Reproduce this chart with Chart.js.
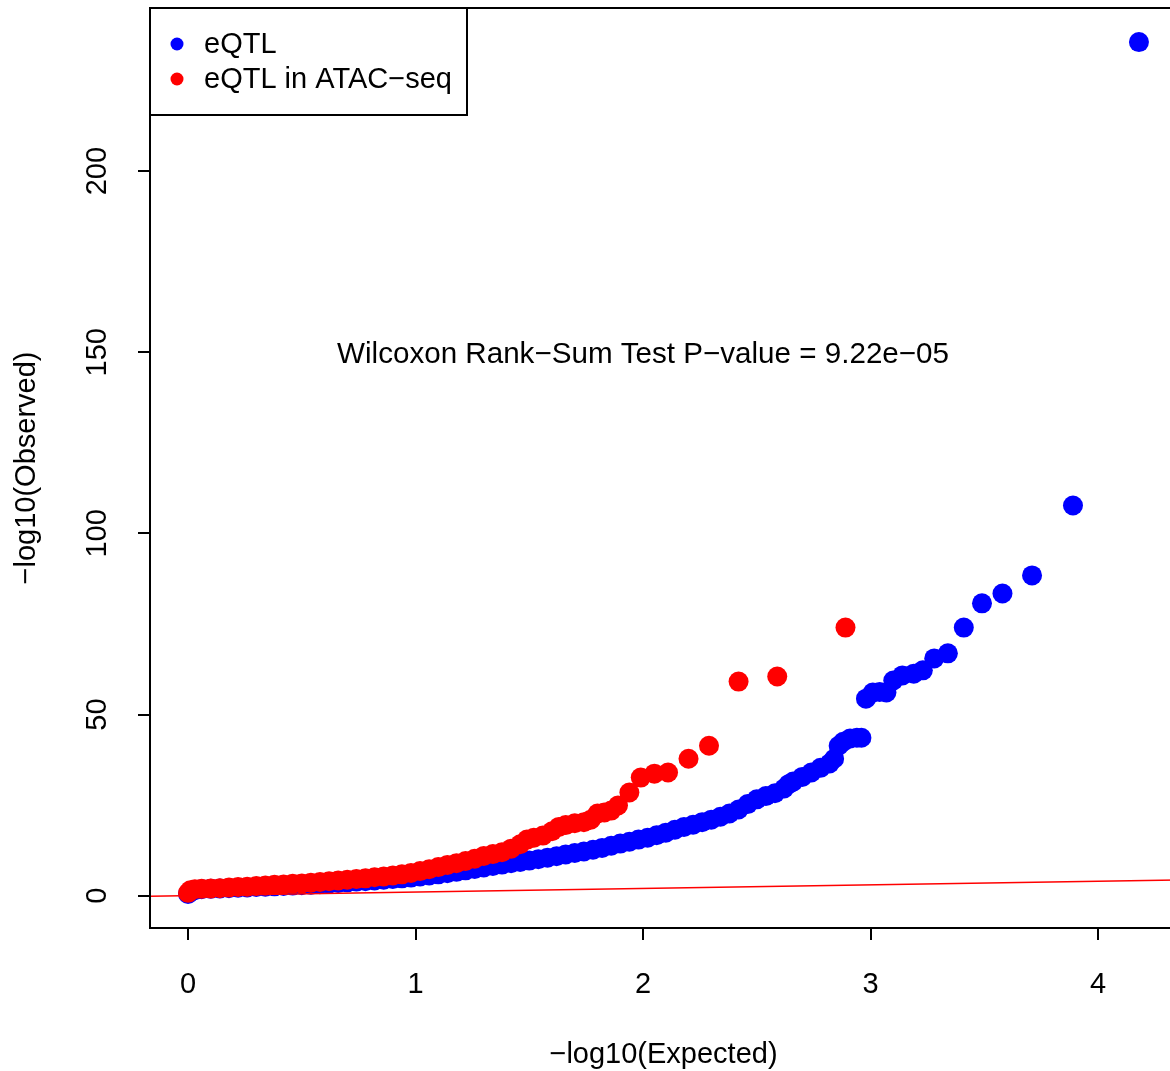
<!DOCTYPE html>
<html>
<head>
<meta charset="utf-8">
<script src="https://cdn.jsdelivr.net/npm/chart.js@4.4.1/dist/chart.umd.min.js"></script>
<style>
  html, body { margin: 0; padding: 0; background: #fff; overflow: hidden; }
  #qq { display: block; }
</style>
</head>
<body>
<canvas id="qq" width="1180" height="1071"></canvas>
<script>
// values: -log10(expected) vs -log10(observed)
const seriesNames = ["eQTL", "eQTL in ATAC\u2212seq"];
const seriesColors = ["#0000FF", "#FF0000"];

const eqtlExpected = [0.00, 0.01, 0.03, 0.06, 0.10, 0.14, 0.18, 0.22, 0.26, 0.30, 0.34, 0.38, 0.42, 0.46,
  0.50, 0.54, 0.58, 0.62, 0.66, 0.70, 0.74, 0.78, 0.82, 0.86, 0.90, 0.94, 0.98, 1.02, 1.06, 1.10, 1.14,
  1.18, 1.22, 1.26, 1.30, 1.34, 1.38, 1.42, 1.46, 1.50, 1.54, 1.58, 1.62, 1.66, 1.70, 1.74, 1.78, 1.82,
  1.86, 1.90, 1.94, 1.98, 2.02, 2.06, 2.10, 2.14, 2.18, 2.22, 2.26, 2.30, 2.34, 2.38, 2.42, 2.46, 2.50,
  2.54, 2.58, 2.62, 2.64, 2.66, 2.70, 2.74, 2.78, 2.82, 2.84, 2.86, 2.88, 2.91, 2.94, 2.96, 2.98, 3.01,
  3.04, 3.07, 3.10, 3.14, 3.19, 3.23, 3.28, 3.34, 3.41, 3.49, 3.58, 3.71, 3.89, 4.18];
const eqtlObserved = [0.5, 1.0, 1.5, 1.8, 1.9, 2.0, 2.1, 2.2, 2.3, 2.4, 2.5, 2.6, 2.7, 2.8,
  2.9, 3.0, 3.2, 3.3, 3.5, 3.7, 3.9, 4.0, 4.2, 4.4, 4.6, 4.8, 5.0, 5.3, 5.6, 5.9, 6.2,
  6.6, 7.0, 7.4, 7.8, 8.2, 8.6, 9.0, 9.3, 9.7, 10.1, 10.5, 10.9, 11.4, 11.8, 12.2, 12.7, 13.2,
  13.8, 14.4, 14.9, 15.5, 16.0, 16.7, 17.4, 18.2, 19.0, 19.6, 20.3, 21.0, 21.8, 22.7, 23.8, 25.3, 26.6,
  27.5, 28.3, 29.6, 30.8, 31.5, 32.8, 34.0, 35.3, 36.5, 37.8, 41.4, 42.5, 43.4, 43.6, 43.6, 54.4, 56.1,
  56.2, 56.1, 59.4, 60.8, 61.3, 62.2, 65.5, 66.9, 74.0, 80.7, 83.4, 88.4, 107.7, 235.6];

const atacExpected = [0.00, 0.01, 0.03, 0.06, 0.10, 0.14, 0.18, 0.22, 0.26, 0.30, 0.34, 0.38, 0.42, 0.46,
  0.50, 0.54, 0.58, 0.62, 0.66, 0.70, 0.74, 0.78, 0.82, 0.86, 0.90, 0.94, 0.98, 1.02, 1.06, 1.10, 1.14,
  1.18, 1.22, 1.26, 1.30, 1.34, 1.38, 1.42, 1.46, 1.49, 1.52, 1.56, 1.60, 1.63, 1.66, 1.70, 1.74, 1.77,
  1.80, 1.83, 1.86, 1.89, 1.94, 1.99, 2.05, 2.11, 2.20, 2.29, 2.42, 2.59, 2.89];
const atacObserved = [0.8, 1.5, 1.8, 1.9, 2.0, 2.1, 2.3, 2.4, 2.5, 2.7, 2.8, 3.0, 3.1, 3.3,
  3.4, 3.6, 3.8, 4.0, 4.2, 4.4, 4.6, 4.8, 5.1, 5.3, 5.6, 5.9, 6.3, 6.8, 7.3, 7.9, 8.5,
  9.0, 9.6, 10.2, 11.0, 11.5, 12.0, 13.0, 14.2, 15.5, 16.0, 16.6, 17.8, 19.0, 19.5, 20.0, 20.3, 21.0,
  22.7, 23.0, 23.5, 24.9, 28.5, 32.6, 33.7, 34.0, 37.8, 41.4, 59.1, 60.5, 74.0];

const xTicks = [0, 1, 2, 3, 4];
const yTicks = [0, 50, 100, 150, 200];
const xTitle = "\u2212log10(Expected)";
const yTitle = "\u2212log10(Observed)";
const noteText = "Wilcoxon Rank\u2212Sum Test P\u2212value = 9.22e\u221205";
const notePos = [2, 150];

const FONT = "'Liberation Sans', Arial, Helvetica, sans-serif";
const FS = 29;

function toPoints(xs, ys) {
  return xs.map((x, i) => ({ x: x, y: ys[i] }));
}

// R style axis range: data range + 4% on each side
function rRange(arrs) {
  const all = [].concat(...arrs);
  const lo = Math.min(...all), hi = Math.max(...all);
  const pad = (hi - lo) * 0.04;
  return [lo - pad, hi + pad];
}
const xLim = rRange([eqtlExpected, atacExpected]);
const yLim = rRange([eqtlObserved, atacObserved]);

const rDecor = {
  id: "rDecor",
  afterDatasetsDraw(chart) {
    const { ctx, chartArea: ca, scales: { x, y } } = chart;
    // abline(0, 1)
    ctx.save();
    ctx.beginPath();
    ctx.rect(ca.left, ca.top, ca.right - ca.left, ca.bottom - ca.top);
    ctx.clip();
    ctx.strokeStyle = "#FF0000";
    ctx.lineWidth = 1.5;
    ctx.beginPath();
    ctx.moveTo(x.getPixelForValue(x.min), y.getPixelForValue(x.min));
    ctx.lineTo(x.getPixelForValue(x.max), y.getPixelForValue(x.max));
    ctx.stroke();
    ctx.restore();
  },
  afterDraw(chart) {
    const { ctx, chartArea: ca, scales: { x, y } } = chart;
    ctx.save();
    // plot box (right side runs off the page, as in the original)
    ctx.strokeStyle = "#000";
    ctx.lineWidth = 2;
    ctx.strokeRect(ca.left, ca.top, ca.right - ca.left, ca.bottom - ca.top);

    ctx.fillStyle = "#000";
    ctx.font = FS + "px " + FONT;

    // y tick labels, parallel to the axis
    yTicks.forEach(v => {
      ctx.save();
      ctx.translate(98, y.getPixelForValue(v));
      ctx.rotate(-Math.PI / 2);
      ctx.textAlign = "center";
      ctx.textBaseline = "middle";
      ctx.fillText(String(v), 0, 0);
      ctx.restore();
    });

    // test annotation
    ctx.font = "29.6px " + FONT;
    ctx.textAlign = "center";
    ctx.textBaseline = "middle";
    ctx.fillText(noteText, x.getPixelForValue(notePos[0]), y.getPixelForValue(notePos[1]) + 3);

    // legend, top left
    ctx.font = FS + "px " + FONT;
    const L = ca.left, T = ca.top;
    ctx.fillStyle = "#fff";
    ctx.fillRect(L, T, 317, 107);
    ctx.strokeRect(L, T, 317, 107);
    ctx.textAlign = "left";
    seriesNames.forEach((name, i) => {
      const cy = T + 36 + i * 35;
      ctx.fillStyle = seriesColors[i];
      ctx.beginPath();
      ctx.arc(L + 27, cy, 6.5, 0, Math.PI * 2);
      ctx.fill();
      ctx.fillStyle = "#000";
      ctx.fillText(name, L + 54, cy + 1);
    });
    ctx.restore();
  }
};

const ctx = document.getElementById("qq").getContext("2d");
new Chart(ctx, {
  type: "scatter",
  data: {
    datasets: [
      {
        label: seriesNames[0],
        data: toPoints(eqtlExpected, eqtlObserved),
        backgroundColor: seriesColors[0],
        borderWidth: 0,
        pointRadius: 10,
        order: 2
      },
      {
        label: seriesNames[1],
        data: toPoints(atacExpected, atacObserved),
        backgroundColor: seriesColors[1],
        borderWidth: 0,
        pointRadius: 10,
        order: 1
      }
    ]
  },
  options: {
    responsive: false,
    animation: false,
    events: [],
    layout: { autoPadding: false, padding: { top: 8, right: 3, left: 0, bottom: 0 } },
    plugins: {
      legend: { display: false },
      tooltip: { enabled: false }
    },
    scales: {
      x: {
        type: "linear",
        min: xLim[0],
        max: xLim[1],
        afterBuildTicks: s => { s.ticks = xTicks.map(v => ({ value: v })); },
        afterFit: s => { s.height = 143; s.paddingLeft = 0; s.paddingRight = 0; },
        border: { display: false },
        grid: { drawOnChartArea: false, drawTicks: true, tickLength: 12, color: "#000", lineWidth: 2 },
        ticks: { color: "#000", font: { family: FONT, size: FS }, padding: 28, maxRotation: 0 },
        title: {
          display: true, text: xTitle, color: "#000",
          font: { family: FONT, size: FS, lineHeight: 1.13 },
          padding: { top: 0, bottom: 0 }
        }
      },
      y: {
        type: "linear",
        min: yLim[0],
        max: yLim[1],
        afterBuildTicks: s => { s.ticks = yTicks.map(v => ({ value: v })); },
        afterFit: s => { s.width = 150; s.paddingTop = 0; s.paddingBottom = 0; },
        border: { display: false },
        grid: { drawOnChartArea: false, drawTicks: true, tickLength: 12, color: "#000", lineWidth: 2 },
        ticks: { display: false },
        title: {
          display: true, text: yTitle, color: "#000",
          font: { family: FONT, size: FS, lineHeight: 1.2 },
          padding: { top: 10, bottom: 0 }
        }
      }
    }
  },
  plugins: [rDecor]
});
</script>
</body>
</html>
